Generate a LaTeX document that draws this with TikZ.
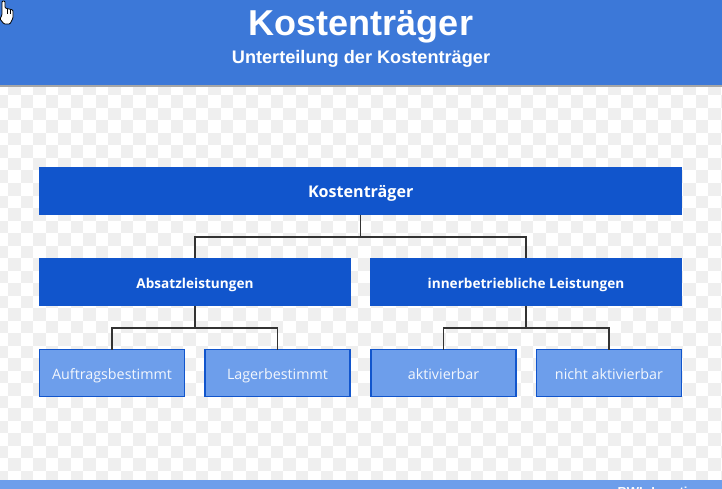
\documentclass[tikz,border=0pt]{standalone}
\usepackage{fontspec}
\setmainfont{Liberation Sans}
\newfontfamily\boxfont{Open Sans}
\usepackage{xcolor}
\definecolor{headblue}{HTML}{3C78D8}
\definecolor{darkblue}{HTML}{1155CC}
\definecolor{lightblue}{HTML}{6D9EEB}
\definecolor{checker}{HTML}{EFEFEF}
\definecolor{wirecol}{HTML}{333333}

\begin{document}
\begin{tikzpicture}[
  x=1pt, y=-1pt,
  wide/.style={fill=darkblue, text=white, minimum height=48pt, inner sep=0pt, outer sep=0pt,
               text height=14pt, text depth=2pt,
               font=\boxfont\bfseries\fontsize{13.6}{16}\selectfont},
  leaf/.style={draw=darkblue, line width=1.8pt, fill=lightblue, text=white!92!lightblue,
               minimum width=145pt, minimum height=47pt, inner sep=0pt, outer sep=0pt,
               text height=14pt, text depth=2pt,
               font=\boxfont\fontsize{14.3}{16}\selectfont},
  wire/.style={draw=wirecol, line width=1.3pt}
]
  \useasboundingbox (0, 0) rectangle (722, 489);
  \clip (0, 0) rectangle (722, 489);

  % Checker background
  \fill[white] (0, 0) rectangle (722, 489);
  \foreach \i in {0,...,58} {
    \foreach \j in {-1,...,31} {
      \pgfmathparse{int(mod(\i+\j+2,2))}
      \ifnum\pgfmathresult=0
        \fill[checker] ({-4.5+12.5*\i}, {95.5+12.5*\j}) rectangle ++(12.5, 12.5);
      \fi
    }
  }

  % Header and footer
  \fill[black!35] (0, 85) rectangle (722, 87.5);
  \fill[headblue] (0, 0) rectangle (722, 85.5);
  \fill[lightblue] (0, 479.5) rectangle (722, 489);
  \node[anchor=base, text=white, font=\bfseries\fontsize{36}{40}\selectfont] (title) at (361, 36) {Kostenträger};
  \node[anchor=base, text=white, font=\bfseries\fontsize{18.15}{20}\selectfont] (subtitle) at (361, 63.5) {Unterteilung der Kostenträger};
  \node[anchor=base west, text=white, font=\bfseries\fontsize{13}{15}\selectfont] (source) at (614, 496.5) {BWL-Lerntipps};

  % Boxes
  \node[wide, minimum width=643.3pt, font=\boxfont\bfseries\fontsize{16.1}{18}\selectfont] (root) at (360.7, 191) {Kostenträger};
  \node[wide, minimum width=312pt] (sales) at (195, 282) {Absatzleistungen};
  \node[wide, minimum width=312pt] (inhouse) at (526, 282) {innerbetriebliche Leistungen};
  \node[leaf] (order) at (112, 373) {Auftragsbestimmt};
  \node[leaf] (stock) at (277.5, 373) {Lagerbestimmt};
  \node[leaf] (active) at (443.5, 373) {aktivierbar};
  \node[leaf] (noactive) at (609, 373) {nicht aktivierbar};

  % Connectors
  \coordinate (rootbus) at (360.7, 237);
  \coordinate (salesbus) at (195, 328);
  \coordinate (inhousebus) at (526, 328);
  \draw[wire] (root.south) -- (rootbus);
  \draw[wire] (sales.north) |- (rootbus) -| (inhouse.north);
  \draw[wire] (sales.south) -- (salesbus);
  \draw[wire] (order.north) |- (salesbus) -| (stock.north);
  \draw[wire] (inhouse.south) -- (inhousebus);
  \draw[wire] (active.north) |- (inhousebus) -| (noactive.north);

  % Cursor
  \draw[black, fill=white, line width=0.8pt, rounded corners=1pt]
    (2, 1) -- (5, 1) -- (5, 8) -- (13, 10) -- (13, 18) -- (10, 24) -- (4, 24) -- (0, 19) -- (2, 15) -- cycle;
  \draw[black, line width=0.6pt] (7.5, 9) -- (7.5, 14) (10.5, 10) -- (10.5, 14);
\end{tikzpicture}
\end{document}
